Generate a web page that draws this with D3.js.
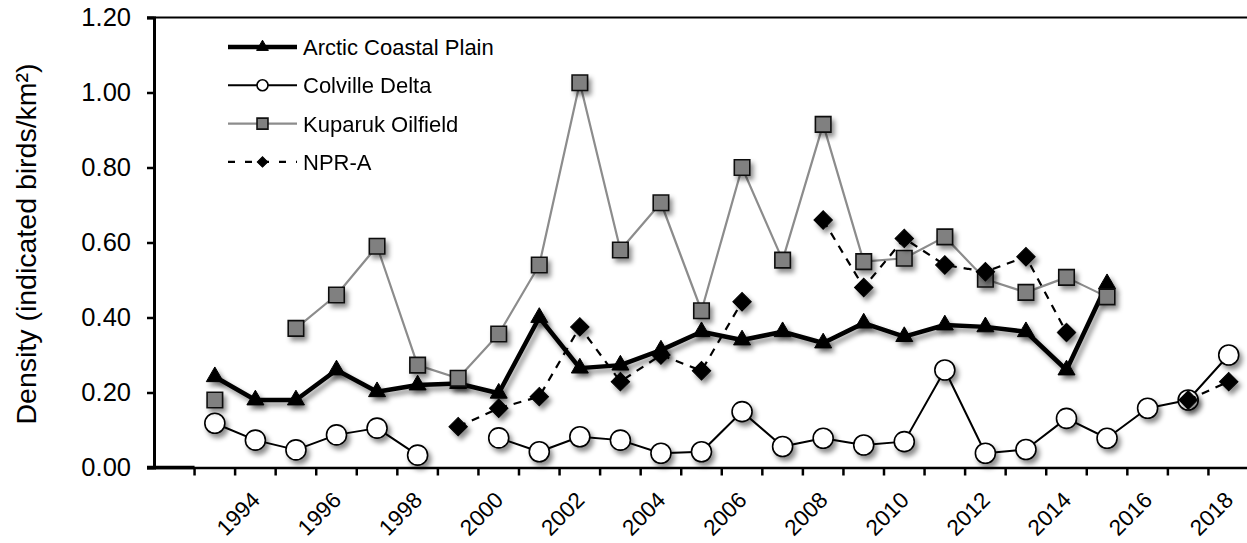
<!DOCTYPE html>
<html>
<head>
<meta charset="utf-8">
<script src="https://cdn.jsdelivr.net/npm/d3@7"></script>
<style>
  body { margin: 0; background: #fff; }
  text { font-family: "Liberation Sans", Arial, Helvetica, sans-serif; fill: #000; }
</style>
</head>
<body>
<svg id="viz" width="1247" height="543"></svg>
<script>
// values, one entry per year (null = no survey)
const years = [1993, 1994, 1995, 1996, 1997, 1998, 1999, 2000, 2001, 2002, 2003, 2004, 2005,
               2006, 2007, 2008, 2009, 2010, 2011, 2012, 2013, 2014, 2015, 2016, 2017, 2018]
const axisYears = [1992].concat(years)
const tickYears = [1994, 1996, 1998, 2000, 2002, 2004, 2006, 2008, 2010, 2012, 2014, 2016, 2018]
const yTicks = [0, 0.2, 0.4, 0.6, 0.8, 1.0, 1.2]

const arcticCoastalPlain = [0.242, 0.18, 0.18, 0.26, 0.202, 0.22, 0.224, 0.198, 0.40, 0.265, 0.273, 0.313, 0.362,
                            0.34, 0.362, 0.332, 0.385, 0.349, 0.38, 0.375, 0.362, 0.26, 0.49, null, null, null]
const colvilleDelta = [0.118, 0.073, 0.047, 0.087, 0.105, 0.033, null, 0.079, 0.042, 0.082, 0.073, 0.038, 0.042,
                       0.149, 0.056, 0.078, 0.06, 0.069, 0.26, 0.038, 0.048, 0.131, 0.078, 0.158, 0.18, 0.30]
const kuparukOilfield = [0.18, null, 0.371, 0.46, 0.59, 0.273, 0.238, 0.356, 0.54, 1.026, 0.58, 0.706, 0.418,
                         0.80, 0.553, 0.915, 0.549, 0.558, 0.615, 0.502, 0.467, 0.507, 0.455, null, null, null]
const nprA = [null, null, null, null, null, null, 0.109, 0.158, 0.189, 0.375, 0.229, 0.30, 0.258,
              0.442, null, 0.66, 0.48, 0.611, 0.54, 0.522, 0.562, 0.36, null, null, 0.18, 0.229]

const seriesNames = ["Arctic Coastal Plain", "Colville Delta", "Kuparuk Oilfield", "NPR-A"]

var svg = d3.select("svg#viz")
const PLOT = { left: 154, right: 1249, top: 17.5, bottom: 467.5 }

const defs = svg.append("defs")
const shadow = defs.append("filter").attr("id", "shadow")
    .attr("x", "-50%").attr("y", "-50%").attr("width", "200%").attr("height", "200%")
shadow.append("feDropShadow")
    .attr("dx", 3).attr("dy", 4).attr("stdDeviation", 2.8)
    .attr("flood-color", "#000").attr("flood-opacity", 0.45)

const x = d3.scaleBand().domain(axisYears).range([PLOT.left, PLOT.right])
const y = d3.scaleLinear().domain([0, 1.2]).range([PLOT.bottom, PLOT.top])
const cx = yr => x(yr) + x.bandwidth() / 2

// frame: top line and y axis
svg.append("line")
    .attr("x1", PLOT.left - 7).attr("x2", 1247)
    .attr("y1", PLOT.top).attr("y2", PLOT.top)
    .attr("stroke", "#000").attr("stroke-width", 2)

const yAxis = svg.append("g")
    .attr("transform", `translate(${PLOT.left},0)`)
    .call(d3.axisLeft(y).tickValues(yTicks).tickFormat(d3.format(".2f")).tickSize(7).tickPadding(16))
yAxis.select(".domain").attr("stroke-width", 3)
yAxis.selectAll(".tick line").attr("stroke-width", 2.5)
yAxis.selectAll(".tick text").attr("font-size", 25.5).attr("font-family", null)

// x axis: ticks on band edges, labels every second year
const xAxis = svg.append("g")
    .attr("transform", `translate(0,${PLOT.bottom})`)
    .call(d3.axisBottom(x).tickSize(0).tickFormat(""))
xAxis.select(".domain").attr("stroke-width", 2.5)
xAxis.selectAll(".tick").remove()

xAxis.selectAll("line.edge")
    .data(axisYears.slice(1).concat(["end"]))
    .join("line")
    .attr("class", "edge")
    .attr("x1", d => d == "end" ? PLOT.right : x(d))
    .attr("x2", d => d == "end" ? PLOT.right : x(d))
    .attr("y1", 0).attr("y2", 8)
    .attr("stroke", "#000").attr("stroke-width", 2.5)

xAxis.append("line")
    .attr("x1", PLOT.left - 7).attr("x2", x(1993))
    .attr("y1", 0).attr("y2", 0)
    .attr("stroke", "#000").attr("stroke-width", 3.5)

xAxis.selectAll("text.yr")
    .data(tickYears)
    .join("text")
    .attr("class", "yr")
    .attr("transform", d => `translate(${cx(d) + 6},34) rotate(-45)`)
    .attr("text-anchor", "end")
    .attr("font-size", 22.5)
    .text(d => d)

// y axis title
svg.append("text")
    .attr("transform", "translate(36,244) rotate(-90)")
    .attr("text-anchor", "middle")
    .attr("font-size", 28.5)
    .text("Density (indicated birds/km²)")

const line = d3.line()
    .defined(d => d.v != null)
    .x(d => cx(d.year))
    .y(d => y(d.v))

const toPoints = arr => years.map((yr, i) => ({ year: yr, v: arr[i] }))

const tri = d3.symbol().type(d3.symbolTriangle)
const sq = d3.symbol().type(d3.symbolSquare)

function drawSeries(arr, style) {
    let pts = toPoints(arr)
    let g = svg.append("g")
    g.append("path")
        .datum(pts)
        .attr("d", line)
        .attr("fill", "none")
        .attr("stroke", style.stroke)
        .attr("stroke-width", style.width)
        .attr("stroke-dasharray", style.dash)
        .attr("stroke-linejoin", "round")
        .attr("filter", style.lineShadow ? "url(#shadow)" : null)

    g.append("g").attr("filter", "url(#shadow)")
        .selectAll("path")
        .data(pts.filter(d => d.v != null))
        .join("path")
        .attr("transform", d => `translate(${cx(d.year)},${y(d.v)})` + (style.rotate ? " rotate(45)" : ""))
        .attr("d", style.symbol)
        .attr("fill", style.fill)
        .attr("stroke", style.markerStroke)
        .attr("stroke-width", style.markerWidth)
}

const styles = [
    { stroke: "#000", width: 4.5, dash: null, lineShadow: true,
      symbol: tri.size(125)(), fill: "#000", markerStroke: "#000", markerWidth: 1 },
    { stroke: "#000", width: 2, dash: null, lineShadow: false,
      symbol: d3.symbol().type(d3.symbolCircle).size(Math.PI * 100)(), fill: "#fff", markerStroke: "#000", markerWidth: 1.6 },
    { stroke: "#8c8c8c", width: 2.2, dash: null, lineShadow: false,
      symbol: sq.size(240)(), fill: "#808080", markerStroke: "#111", markerWidth: 1.6 },
    { stroke: "#000", width: 2.2, dash: "8,7", lineShadow: false, rotate: true,
      symbol: sq.size(170)(), fill: "#000", markerStroke: "#000", markerWidth: 1 }
]

drawSeries(arcticCoastalPlain, styles[0])
drawSeries(colvilleDelta, styles[1])
drawSeries(kuparukOilfield, styles[2])
drawSeries(nprA, styles[3])

// legend
const legendSymbols = [tri.size(60)(), d3.symbol().type(d3.symbolCircle).size(Math.PI * 30)(), sq.size(120)(), sq.size(55)()]
const legend = svg.append("g").attr("transform", "translate(228,47)")
const rows = legend.selectAll("g")
    .data(seriesNames)
    .join("g")
    .attr("transform", (d, i) => `translate(0,${i * 38.3})`)

rows.append("line")
    .attr("x1", 0).attr("x2", 69)
    .attr("stroke", (d, i) => styles[i].stroke)
    .attr("stroke-width", (d, i) => styles[i].width)
    .attr("stroke-dasharray", (d, i) => i == 3 ? "7,10" : null)

rows.append("path")
    .attr("transform", (d, i) => "translate(34.5,0)" + (i == 3 ? " rotate(45)" : ""))
    .attr("d", (d, i) => legendSymbols[i])
    .attr("fill", (d, i) => styles[i].fill)
    .attr("stroke", (d, i) => styles[i].markerStroke)
    .attr("stroke-width", (d, i) => i == 1 || i == 2 ? 1.6 : 1)

rows.append("text")
    .attr("x", 75)
    .attr("dy", "0.36em")
    .attr("font-size", 22)
    .text(d => d)
</script>
</body>
</html>
